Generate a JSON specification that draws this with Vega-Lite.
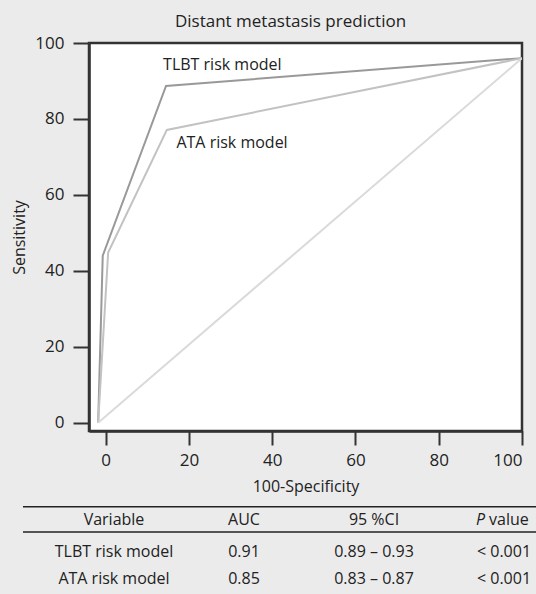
{
  "$schema": "https://vega.github.io/schema/vega-lite/v6.json",
  "width": 433,
  "height": 388,
  "autosize": {"type": "none"},
  "padding": {"left": 89, "top": 43, "right": 14, "bottom": 163},
  "background": "#ebebeb",
  "title": {"text": "Distant metastasis prediction", "fontSize": 17, "fontWeight": "normal", "color": "#222222", "offset": 3, "dx": -15},
  "config": {
    "font": "Open Sans",
    "view": {"fill": "white", "stroke": "#333333", "strokeWidth": 2.5},
    "axis": {"grid": false, "labelColor": "#222222", "titleColor": "#222222", "titleFontWeight": "normal", "tickColor": "#333333", "tickWidth": 2, "domainColor": "#333333", "domainWidth": 2.5}
  },
  "layer": [
    {
      "layer": [
        {
          "data": {"values": [
            {"series": "TLBT", "o": 0, "fpr": -1.8, "tpr": 0},
            {"series": "TLBT", "o": 1, "fpr": -0.7, "tpr": 44},
            {"series": "TLBT", "o": 2, "fpr": 14.5, "tpr": 88.7},
            {"series": "TLBT", "o": 3, "fpr": 100, "tpr": 96},
            {"series": "ATA", "o": 0, "fpr": -1.8, "tpr": 0},
            {"series": "ATA", "o": 1, "fpr": 0.6, "tpr": 44.8},
            {"series": "ATA", "o": 2, "fpr": 14.7, "tpr": 77.1},
            {"series": "ATA", "o": 3, "fpr": 100, "tpr": 96},
            {"series": "Reference", "o": 0, "fpr": -1.8, "tpr": 0},
            {"series": "Reference", "o": 1, "fpr": 100, "tpr": 96}
          ]},
          "mark": {"type": "line", "clip": true},
          "encoding": {
            "x": {"field": "fpr", "type": "quantitative", "scale": {"domain": [-4, 100], "nice": false, "zero": false},
                  "axis": {"values": [0, 20, 40, 60, 80, 100], "title": "100-Specificity", "titleFontSize": 16, "titlePadding": 10, "labelFontSize": 17, "labelPadding": 7, "tickSize": 14}},
            "y": {"field": "tpr", "type": "quantitative", "scale": {"domain": [-2.2, 100], "nice": false, "zero": false},
                  "axis": {"values": [0, 20, 40, 60, 80, 100], "title": "Sensitivity", "titleFontSize": 16, "titlePadding": 7, "labelFontSize": 17, "labelPadding": 9, "tickSize": 16}},
            "detail": {"field": "series"},
            "order": {"field": "o"},
            "color": {"field": "series", "type": "nominal", "scale": {"domain": ["TLBT", "ATA", "Reference"], "range": ["#999999", "#c2c2c2", "#dadada"]}, "legend": null},
            "strokeWidth": {"field": "series", "type": "nominal", "scale": {"domain": ["TLBT", "ATA", "Reference"], "range": [2, 2, 1]}, "legend": null}
          }
        },
        {
          "data": {"values": [
            {"label": "TLBT risk model", "fpr": 13.8, "tpr": 94.2},
            {"label": "ATA risk model", "fpr": 17.0, "tpr": 73.7}
          ]},
          "mark": {"type": "text", "align": "left", "baseline": "middle", "fontSize": 16, "color": "#222222"},
          "encoding": {
            "x": {"field": "fpr", "type": "quantitative"},
            "y": {"field": "tpr", "type": "quantitative"},
            "text": {"field": "label"}
          }
        }
      ]
    },
    {
      "layer": [
        {
          "data": {"values": [
            {"row": 1, "col": "Variable", "text": "TLBT risk model"},
            {"row": 1, "col": "AUC", "text": "0.91"},
            {"row": 1, "col": "95 %CI", "text": "0.89 – 0.93"},
            {"row": 1, "col": "P value", "text": "< 0.001"},
            {"row": 2, "col": "Variable", "text": "ATA risk model"},
            {"row": 2, "col": "AUC", "text": "0.85"},
            {"row": 2, "col": "95 %CI", "text": "0.83 – 0.87"},
            {"row": 2, "col": "P value", "text": "< 0.001"}
          ]},
          "mark": {"type": "text", "align": "center", "baseline": "middle", "fontSize": 16, "color": "#222222"},
          "encoding": {
            "x": {"field": "col", "type": "nominal", "scale": {"type": "point", "domain": ["Variable", "AUC", "95 %CI", "P value"], "range": [25, 415], "padding": 0}, "axis": null},
            "y": {"field": "row", "type": "quantitative", "scale": {"domain": [1, 2], "range": [509, 536], "nice": false, "zero": false}, "axis": null},
            "text": {"field": "text"}
          }
        },
        {
          "data": {"values": [
            {"row": 0, "col": "Variable", "text": "Variable"},
            {"row": 0, "col": "AUC", "text": "AUC"},
            {"row": 0, "col": "95 %CI", "text": "95 %CI"}
          ]},
          "mark": {"type": "text", "align": "center", "baseline": "middle", "fontSize": 16, "color": "#222222", "dy": -5},
          "encoding": {
            "x": {"field": "col", "type": "nominal"},
            "y": {"field": "row", "type": "quantitative"},
            "text": {"field": "text"}
          }
        },
        {
          "data": {"values": [{"row": 0, "col": "P value", "text": "P"}]},
          "mark": {"type": "text", "align": "right", "baseline": "middle", "fontSize": 16, "fontStyle": "italic", "color": "#222222", "dy": -5, "dx": -19},
          "encoding": {
            "x": {"field": "col", "type": "nominal"},
            "y": {"field": "row", "type": "quantitative"},
            "text": {"field": "text"}
          }
        },
        {
          "data": {"values": [{"row": 0, "col": "P value", "text": "value"}]},
          "mark": {"type": "text", "align": "left", "baseline": "middle", "fontSize": 16, "color": "#222222", "dy": -5, "dx": -15},
          "encoding": {
            "x": {"field": "col", "type": "nominal"},
            "y": {"field": "row", "type": "quantitative"},
            "text": {"field": "text"}
          }
        }
      ]
    },
    {
      "data": {"values": [{"line": "top", "row": -0.678}, {"line": "header", "row": 0.259}]},
      "mark": {"type": "rule", "color": "#222222", "strokeWidth": 1.5},
      "encoding": {
        "x": {"datum": 0, "type": "quantitative", "scale": {"domain": [0, 1], "range": [-66, 447], "nice": false, "zero": false}, "axis": null},
        "x2": {"datum": 1},
        "y": {"field": "row", "type": "quantitative", "scale": {"domain": [1, 2], "range": [509, 536], "nice": false, "zero": false}, "axis": null}
      }
    }
  ],
  "resolve": {"scale": {"x": "independent", "y": "independent", "color": "independent", "strokeWidth": "independent"}}
}
